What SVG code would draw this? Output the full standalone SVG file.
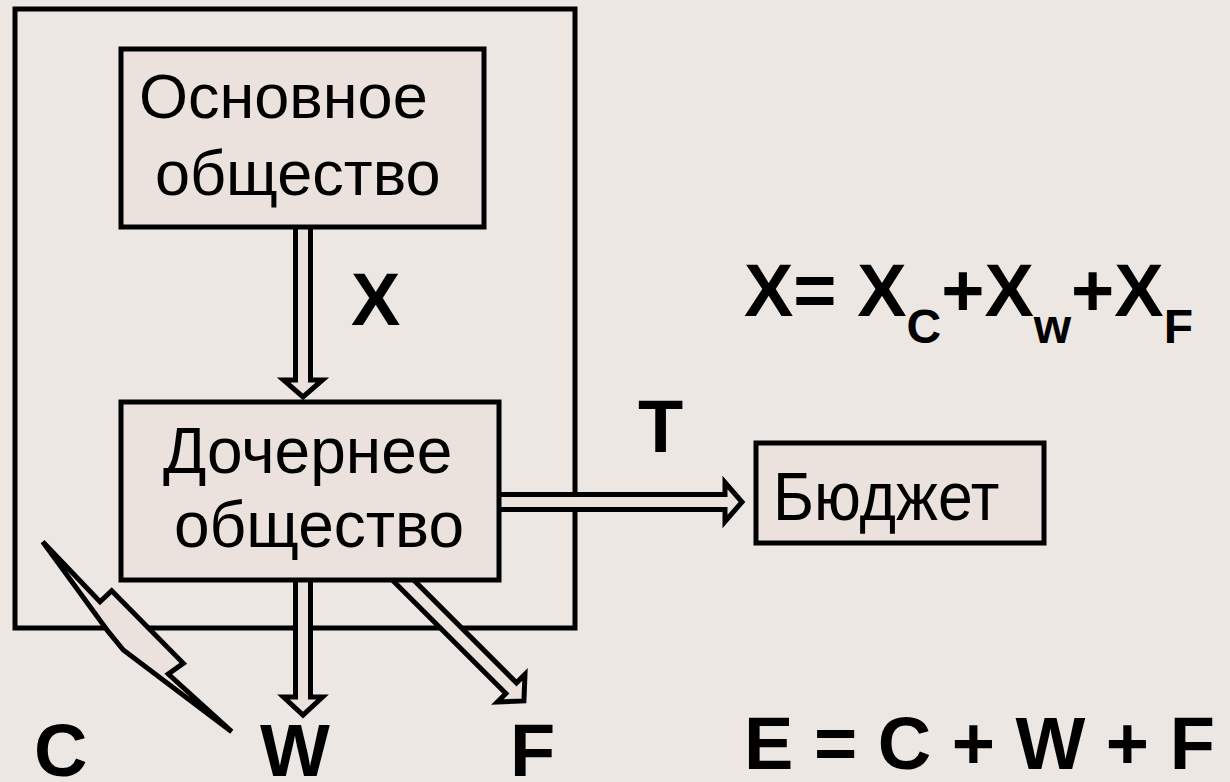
<svg xmlns="http://www.w3.org/2000/svg" width="1230" height="782" viewBox="0 0 1230 782">
<style>
.box{fill:#EBE2DE;stroke:#000;stroke-width:5}
.arr{fill:#EBE2DE;stroke:#000;stroke-width:5;stroke-linejoin:miter;stroke-miterlimit:10}
.t{font-family:"Liberation Sans",Arial,sans-serif;font-size:63px;fill:#000}
.b{font-family:"Liberation Sans",Arial,sans-serif;font-size:74px;font-weight:bold;fill:#000}
.s{font-size:48px}
</style>
<rect x="0" y="0" width="1230" height="782" fill="#ECE7E3"/>
<g id="outer">
<rect x="15" y="9" width="560" height="619" fill="none" stroke="#000" stroke-width="5"/>
</g>
<g id="connectors">
<polygon class="arr" points="295.5,222 310.5,222 310.5,380 322.5,380 303,397 283.5,380 295.5,380"/>
<polygon class="arr" points="295.5,575 310.5,575 310.5,697 322.5,697 303,715 283.5,697 295.5,697"/>
<polygon class="arr" points="494,494.5 725,494.5 725,482.5 742,502 725,521.5 725,509.5 494,509.5"/>
<g transform="translate(403,580) rotate(45)">
<polygon class="arr" points="-20,-7.5 153,-7.5 153,-19.5 171,0 153,19.5 153,7.5 -20,7.5"/>
</g>
</g>
<g id="parent">
<rect class="box" x="121" y="49" width="363" height="178"/>
<text class="t" x="139" y="118">Основное</text>
<text class="t" x="155" y="195">общество</text>
</g>
<g id="subsidiary">
<rect class="box" x="121" y="402" width="378" height="178"/>
<text class="t" x="163" y="473" style="font-size:64px">Дочернее</text>
<text class="t" x="174" y="547" style="font-size:64px">общество</text>
</g>
<g id="budget">
<rect class="box" x="756" y="443" width="288" height="100"/>
<text class="t" transform="translate(773,520) scale(0.92,1)" style="font-size:68px">Бюджет</text>
</g>
<g id="lightning">
<polygon points="42.7,541.7 100,601.7 111.7,590.7 183.3,663.3 168.3,674 231.7,731.7 123.3,650 108.3,631.7" fill="#EBE2DE" stroke="#000" stroke-width="5" stroke-linejoin="miter" stroke-miterlimit="4"/>
</g>
<g id="labels">
<text class="b" x="351" y="325">X</text>
<text class="b" x="638" y="452">T</text>
<text class="b" x="34" y="776">C</text>
<text class="b" x="260" y="776">W</text>
<text class="b" x="510" y="776">F</text>
</g>
<g id="equations">
<text class="b" x="744" y="316">X= X<tspan class="s" dy="27">C</tspan><tspan dy="-27">+X</tspan><tspan class="s" dy="27">w</tspan><tspan dy="-27">+X</tspan><tspan class="s" dy="27">F</tspan></text>
<text class="b" x="744" y="769">E = C + W + F</text>
</g>
</svg>
